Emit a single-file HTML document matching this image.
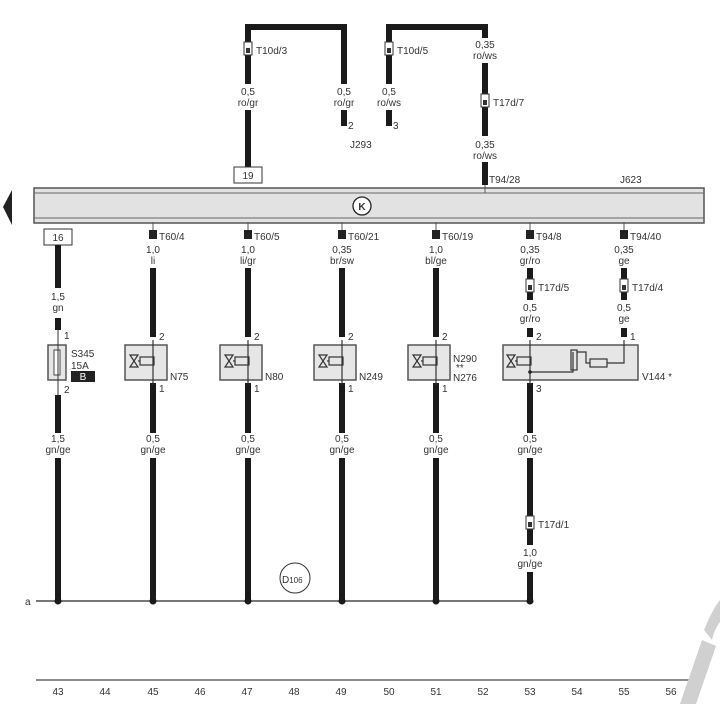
<!DOCTYPE html>
<html><head><meta charset="utf-8"><style>
html,body{margin:0;padding:0;background:#fff}
svg{display:block}
text{font-family:"Liberation Sans",sans-serif;fill:#333;font-size:10px}
.c{text-anchor:middle}
.w{stroke:#1a1a1a;stroke-width:6;fill:none}
.cn{fill:#fff;stroke:#333;stroke-width:1}
.box{fill:#e6e6e6;stroke:#555;stroke-width:1.5}
</style></head><body>
<svg width="720" height="704" viewBox="0 0 720 704" xmlns="http://www.w3.org/2000/svg">
<path class="w" d="M248 84 V27 H344 V84"/>
<path class="w" d="M248 110 V168"/>
<path class="w" d="M344 110 V126"/>
<path class="w" d="M389 84 V27 H485 V38"/>
<path class="w" d="M389 110 V126"/>
<path class="w" d="M485 63 V136"/>
<path class="w" d="M485 162 V185"/>
<rect class="cn" x="244" y="42" width="8" height="13"/><rect x="246" y="48" width="4" height="5" fill="#333"/>
<text x="256" y="54" font-size="11">T10d/3</text>
<rect class="cn" x="385" y="42" width="8" height="13"/><rect x="387" y="48" width="4" height="5" fill="#333"/>
<text x="397" y="54" font-size="11">T10d/5</text>
<rect class="cn" x="481" y="94" width="8" height="13"/><rect x="483" y="100" width="4" height="5" fill="#333"/>
<text x="493" y="106" font-size="11">T17d/7</text>
<text class="c" x="248" y="95">0,5</text><text class="c" x="248" y="106">ro/gr</text>
<text class="c" x="344" y="95">0,5</text><text class="c" x="344" y="106">ro/gr</text>
<text class="c" x="389" y="95">0,5</text><text class="c" x="389" y="106">ro/ws</text>
<text class="c" x="485" y="48">0,35</text><text class="c" x="485" y="59">ro/ws</text>
<text class="c" x="485" y="148">0,35</text><text class="c" x="485" y="159">ro/ws</text>
<text x="348" y="129">2</text><text x="393" y="129">3</text>
<text x="350" y="148" font-size="12">J<tspan font-size="10">293</tspan></text>
<rect x="234" y="167" width="28" height="16" fill="#fff" stroke="#333"/>
<text class="c" x="248" y="179">19</text>
<text x="489" y="183">T94/28</text>
<text x="620" y="183" font-size="12">J<tspan font-size="10">623</tspan></text>
<rect x="34" y="188" width="670" height="35" fill="#e2e2e2" stroke="#555" stroke-width="1.5"/>
<line x1="34" y1="193" x2="704" y2="193" stroke="#666"/>
<line x1="34" y1="218" x2="704" y2="218" stroke="#666"/>
<line x1="485" y1="185" x2="485" y2="193" stroke="#555"/>
<polygon points="12,190 12,225 3,207" fill="#222"/>
<circle cx="362" cy="206" r="9" fill="#fff" stroke="#222" stroke-width="1.3"/>
<text class="c" x="362" y="210" font-size="11" font-weight="bold">K</text>
<rect x="44" y="229" width="28" height="16" fill="#fff" stroke="#333"/>
<text class="c" x="58" y="241">16</text>
<path class="w" d="M58 245 V288"/>
<text class="c" x="58" y="300">1,5</text><text class="c" x="58" y="311">gn</text>
<path class="w" d="M58 318 V330"/><text x="64" y="339">1</text>
<rect x="48" y="345" width="18" height="35" fill="#e6e6e6" stroke="#555" stroke-width="1.5"/>
<rect x="54" y="350" width="6" height="25" fill="#fff" stroke="#444"/>
<line x1="58" y1="330" x2="58" y2="395" stroke="#333"/>
<text x="71" y="357" font-size="13">S<tspan font-size="10">345</tspan></text>
<text x="71" y="369">15A</text>
<rect x="71" y="371" width="24" height="11" fill="#222"/><text class="c" x="83" y="380" style="fill:#fff" font-size="9">B</text>
<text x="64" y="393">2</text>
<path class="w" d="M58 395 V433"/>
<text class="c" x="58" y="442">1,5</text><text class="c" x="58" y="453">gn/ge</text>
<path class="w" d="M58 458 V601"/>
<g>
<line x1="153" y1="222" x2="153" y2="230" stroke="#555"/><rect x="149" y="230" width="8" height="9" fill="#222"/>
<text x="159" y="240">T60/4</text>
<text class="c" x="153" y="253">1,0</text><text class="c" x="153" y="264">li</text>
<path class="w" d="M153 268 V337"/><text x="159" y="340">2</text>
<rect class="box" x="125" y="345" width="42" height="35"/>
<text x="170" y="380" font-size="13">N<tspan font-size="10">75</tspan></text>
<path class="w" d="M153 383 V433"/><text x="159" y="392">1</text>
<text class="c" x="153" y="442">0,5</text><text class="c" x="153" y="453">gn/ge</text>
<path class="w" d="M153 458 V601"/>
</g>
<g>
<line x1="248" y1="222" x2="248" y2="230" stroke="#555"/><rect x="244" y="230" width="8" height="9" fill="#222"/>
<text x="254" y="240">T60/5</text>
<text class="c" x="248" y="253">1,0</text><text class="c" x="248" y="264">li/gr</text>
<path class="w" d="M248 268 V337"/><text x="254" y="340">2</text>
<rect class="box" x="220" y="345" width="42" height="35"/>
<text x="265" y="380" font-size="13">N<tspan font-size="10">80</tspan></text>
<path class="w" d="M248 383 V433"/><text x="254" y="392">1</text>
<text class="c" x="248" y="442">0,5</text><text class="c" x="248" y="453">gn/ge</text>
<path class="w" d="M248 458 V601"/>
</g>
<g>
<line x1="342" y1="222" x2="342" y2="230" stroke="#555"/><rect x="338" y="230" width="8" height="9" fill="#222"/>
<text x="348" y="240">T60/21</text>
<text class="c" x="342" y="253">0,35</text><text class="c" x="342" y="264">br/sw</text>
<path class="w" d="M342 268 V337"/><text x="348" y="340">2</text>
<rect class="box" x="314" y="345" width="42" height="35"/>
<text x="359" y="380" font-size="13">N<tspan font-size="10">249</tspan></text>
<path class="w" d="M342 383 V433"/><text x="348" y="392">1</text>
<text class="c" x="342" y="442">0,5</text><text class="c" x="342" y="453">gn/ge</text>
<path class="w" d="M342 458 V601"/>
</g>
<g>
<line x1="436" y1="222" x2="436" y2="230" stroke="#555"/><rect x="432" y="230" width="8" height="9" fill="#222"/>
<text x="442" y="240">T60/19</text>
<text class="c" x="436" y="253">1,0</text><text class="c" x="436" y="264">bl/ge</text>
<path class="w" d="M436 268 V337"/><text x="442" y="340">2</text>
<rect class="box" x="408" y="345" width="42" height="35"/>
<text x="453" y="362" font-size="13">N<tspan font-size="10">290</tspan></text>
<text x="456" y="371" font-size="10">**</text>
<text x="453" y="381" font-size="13">N<tspan font-size="10">276</tspan></text>
<path class="w" d="M436 383 V433"/><text x="442" y="392">1</text>
<text class="c" x="436" y="442">0,5</text><text class="c" x="436" y="453">gn/ge</text>
<path class="w" d="M436 458 V601"/>
</g>
<line x1="530" y1="222" x2="530" y2="230" stroke="#555"/><rect x="526" y="230" width="8" height="9" fill="#222"/>
<text x="536" y="240">T94/8</text>
<text class="c" x="530" y="253">0,35</text><text class="c" x="530" y="264">gr/ro</text>
<path class="w" d="M530 268 V300"/>
<rect class="cn" x="526" y="279" width="8" height="13"/><rect x="528" y="285" width="4" height="5" fill="#333"/>
<text x="538" y="291" font-size="11">T17d/5</text>
<text class="c" x="530" y="311">0,5</text><text class="c" x="530" y="322">gr/ro</text>
<path class="w" d="M530 328 V337"/><text x="536" y="340">2</text>
<rect class="box" x="503" y="345" width="135" height="35"/>
<text x="642" y="380" font-size="13">V<tspan font-size="10">144 *</tspan></text>
<path class="w" d="M530 383 V433"/><text x="536" y="392">3</text>
<text class="c" x="530" y="442">0,5</text><text class="c" x="530" y="453">gn/ge</text>
<path class="w" d="M530 458 V545"/>
<rect class="cn" x="526" y="516" width="8" height="13"/><rect x="528" y="522" width="4" height="5" fill="#333"/>
<text x="538" y="528" font-size="11">T17d/1</text>
<text class="c" x="530" y="556">1,0</text><text class="c" x="530" y="567">gn/ge</text>
<path class="w" d="M530 572 V601"/>
<line x1="624" y1="222" x2="624" y2="230" stroke="#555"/><rect x="620" y="230" width="8" height="9" fill="#222"/>
<text x="630" y="240">T94/40</text>
<text class="c" x="624" y="253">0,35</text><text class="c" x="624" y="264">ge</text>
<path class="w" d="M624 268 V300"/>
<rect class="cn" x="620" y="279" width="8" height="13"/><rect x="622" y="285" width="4" height="5" fill="#333"/>
<text x="632" y="291" font-size="11">T17d/4</text>
<text class="c" x="624" y="311">0,5</text><text class="c" x="624" y="322">ge</text>
<path class="w" d="M624 328 V337"/><text x="630" y="340">1</text>
<g fill="none" stroke="#333" stroke-width="1.2">
<path d="M130 355 h8 l-8 12 h8 z"/><rect x="140" y="357" width="14" height="8"/><line x1="153" y1="340" x2="153" y2="385"/><line x1="138" y1="361" x2="140" y2="361"/>
<path d="M225 355 h8 l-8 12 h8 z"/><rect x="235" y="357" width="14" height="8"/><line x1="248" y1="340" x2="248" y2="385"/><line x1="233" y1="361" x2="235" y2="361"/>
<path d="M319 355 h8 l-8 12 h8 z"/><rect x="329" y="357" width="14" height="8"/><line x1="342" y1="340" x2="342" y2="385"/><line x1="327" y1="361" x2="329" y2="361"/>
<path d="M413 355 h8 l-8 12 h8 z"/><rect x="423" y="357" width="14" height="8"/><line x1="436" y1="340" x2="436" y2="385"/><line x1="421" y1="361" x2="423" y2="361"/>
<path d="M507 355 h8 l-8 12 h8 z"/><rect x="517" y="357" width="14" height="8"/><line x1="530" y1="340" x2="530" y2="385"/><line x1="515" y1="361" x2="517" y2="361"/>
<path d="M530 372 H573 V352"/><rect x="571" y="350" width="6" height="20"/><path d="M577 352 H586 V363 H590"/><rect x="590" y="359" width="17" height="8"/><path d="M607 363 H624 V340"/>
</g>
<circle cx="530" cy="372" r="1.8" fill="#222"/>
<line x1="36" y1="601" x2="530" y2="601" stroke="#777" stroke-width="2"/>
<text x="25" y="605">a</text>
<g fill="#1a1a1a"><circle cx="58" cy="601" r="3.5"/><circle cx="153" cy="601" r="3.5"/><circle cx="248" cy="601" r="3.5"/><circle cx="342" cy="601" r="3.5"/><circle cx="436" cy="601" r="3.5"/><circle cx="530" cy="601" r="3.5"/></g>
<ellipse cx="295" cy="578" rx="15" ry="15" fill="#fff" stroke="#333"/>
<text x="282" y="583" font-size="12">D<tspan font-size="8">106</tspan></text>
<line x1="36" y1="680" x2="702" y2="680" stroke="#666" stroke-width="1.5"/>
<g font-size="10">
<text class="c" x="58" y="695">43</text><text class="c" x="105" y="695">44</text><text class="c" x="153" y="695">45</text><text class="c" x="200" y="695">46</text><text class="c" x="247" y="695">47</text><text class="c" x="294" y="695">48</text><text class="c" x="341" y="695">49</text><text class="c" x="389" y="695">50</text><text class="c" x="436" y="695">51</text><text class="c" x="483" y="695">52</text><text class="c" x="530" y="695">53</text><text class="c" x="577" y="695">54</text><text class="c" x="624" y="695">55</text><text class="c" x="671" y="695">56</text>
</g>
<path d="M680 704 L702 640 L716 646 L696 704 Z" fill="#d0d0d0"/>
<path d="M704 630 Q712 610 720 600 V622 Q714 630 712 640 Z" fill="#d0d0d0"/>
</svg>
</body></html>
